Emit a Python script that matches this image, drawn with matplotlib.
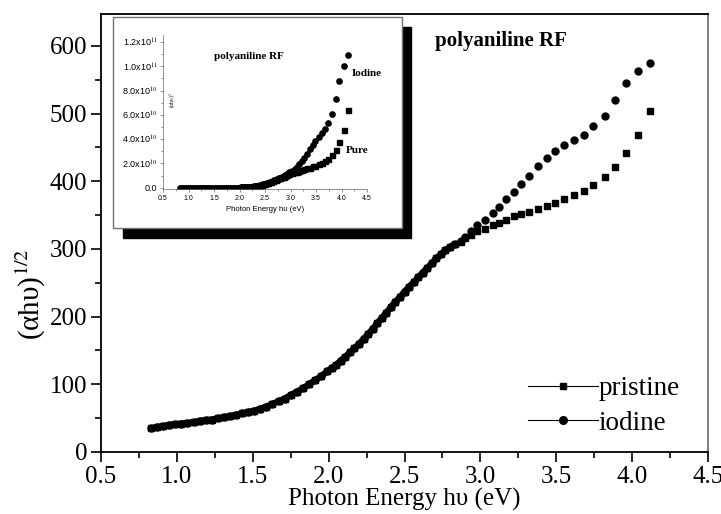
import numpy as np
import matplotlib
matplotlib.use('Agg')
import matplotlib.pyplot as plt
from matplotlib.patches import Rectangle
from matplotlib.lines import Line2D
from matplotlib.ticker import MultipleLocator, FormatStrFormatter

plt.rcParams['font.family'] = ['Liberation Serif', 'DejaVu Serif']
plt.rcParams['mathtext.fontset'] = 'stix'

# Shared low-energy part (both samples overlap below ~2.85 eV)
common_x = [0.83, 0.87, 0.91, 0.95, 0.99, 1.03, 1.07, 1.11, 1.15, 1.19, 1.23, 1.27,
            1.31, 1.35, 1.39, 1.43, 1.47, 1.51, 1.55, 1.59, 1.63, 1.67, 1.71, 1.75,
            1.79, 1.83, 1.87, 1.91, 1.95, 1.99, 2.02, 2.05, 2.08, 2.11, 2.14, 2.17,
            2.20, 2.23, 2.26, 2.29, 2.32, 2.35, 2.38, 2.41, 2.44, 2.47, 2.50, 2.53,
            2.56, 2.59, 2.62, 2.65, 2.68, 2.71, 2.74, 2.77, 2.80, 2.83]
common_y = [35, 37, 38, 40, 41, 42, 43, 44, 46, 47, 48, 50,
            51, 53, 55, 57, 59, 61, 64, 67, 71, 75, 79, 84,
            89, 94, 100, 106, 112, 119, 124, 129, 135, 141, 147, 153,
            160, 167, 174, 182, 190, 198, 206, 214, 222, 229, 237, 244,
            251, 258, 265, 272, 279, 286, 292, 298, 303, 307]

# High-energy tails
tail_x = [2.87, 2.90, 2.94, 2.98, 3.03, 3.08, 3.12, 3.17, 3.22, 3.27, 3.32, 3.38,
          3.44, 3.49, 3.55, 3.62, 3.68, 3.74, 3.82, 3.89, 3.96, 4.04, 4.12]
iodine_tail = [311, 318, 326, 335, 343, 353, 362, 373, 384, 396, 408, 422,
               434, 444, 453, 461, 469, 481, 497, 520, 545, 563, 575]
pristine_tail = [310, 316, 321, 326, 330, 335, 339, 343, 348, 351, 355, 359,
                 364, 368, 373, 379, 385, 394, 406, 421, 441, 468, 503]

energy = np.array(common_x + tail_x)
iodine = np.array(common_y + iodine_tail, dtype=float)
pristine = np.array(common_y + pristine_tail, dtype=float)

inset_yticks = [0, 2e10, 4e10, 6e10, 8e10, 1e11, 1.2e11]
inset_yticklabels = ['0.0', r'2.0x10$^{10}$', r'4.0x10$^{10}$', r'6.0x10$^{10}$',
                     r'8.0x10$^{10}$', r'1.0x10$^{11}$', r'1.2x10$^{11}$']

sans = ['Liberation Sans', 'DejaVu Sans']
W, H = 721, 514
fig = plt.figure(figsize=(W / 100, H / 100), dpi=100)

# main axes
ax = fig.add_axes([101 / W, (H - 452) / H, 607 / W, 438 / H])
# dense overlapping part reads as a solid band
ax.plot(common_x, common_y, '-', color='black', lw=4.5, solid_capstyle='round')
ax.plot(energy, pristine, 's', color='black', ms=4.6, ls='none')
ax.plot(energy, iodine, 'o', color='black', ms=5.0, ls='none')
ax.set_xlim(0.5, 4.5)
ax.set_ylim(0, 647)
ax.xaxis.set_major_locator(MultipleLocator(0.5))
ax.xaxis.set_minor_locator(MultipleLocator(0.25))
ax.yaxis.set_major_locator(MultipleLocator(100))
ax.yaxis.set_minor_locator(MultipleLocator(50))
ax.tick_params(which='both', direction='out', top=False, right=False, width=1.2,
               labelsize=18)
ax.tick_params(which='major', length=7, pad=3)
ax.tick_params(which='minor', length=4)
ax.xaxis.set_major_formatter(FormatStrFormatter('%.1f'))
for s in ['left', 'bottom', 'top']:
    ax.spines[s].set_linewidth(1.3)
ax.spines['right'].set_color('0.45')
ax.spines['right'].set_linewidth(1.3)
ax.set_xlabel('Photon Energy h\u03c5 (eV)', fontsize=18, labelpad=0)
ax.set_ylabel('(\u03b1h\u03c5)$^{1/2}$', fontsize=21)
ax.yaxis.set_label_coords(-0.087, 0.36)
ax.text(2.70, 600, 'polyaniline RF', fontsize=15, fontweight='bold')
handles = [Line2D([], [], color='black', lw=0.8, marker='s', ms=5),
           Line2D([], [], color='black', lw=0.8, marker='o', ms=5.5)]
ax.legend(handles, ['pristine', 'iodine'], loc='lower right',
          bbox_to_anchor=(0.98, 0.0), frameon=False, fontsize=19.5,
          handlelength=2.6, handletextpad=0.0, labelspacing=0.35,
          borderaxespad=0.2)

# inset box with shadow
fig.add_artist(Rectangle((123 / W, (H - 238) / H), 288 / W, 211 / H,
                         transform=fig.transFigure, facecolor='black',
                         edgecolor='black', zorder=2))
fig.add_artist(Rectangle((113 / W, (H - 228) / H), 289 / W, 211 / H,
                         transform=fig.transFigure, facecolor='white',
                         edgecolor='0.45', lw=1.0, zorder=2.5))

ax_in = fig.add_axes([163 / W, (H - 189) / H, 204 / W, 154 / H])
ax_in.set_zorder(3)
ax_in.patch.set_alpha(0)
ax_in.plot(energy, pristine ** 4, 's', color='black', ms=3.6, ls='none')
ax_in.plot(energy, iodine ** 4, 'o', color='black', ms=3.8, ls='none')
ax_in.set_xlim(0.5, 4.5)
ax_in.set_ylim(-1.0e9, 1.258e11)
ax_in.xaxis.set_major_locator(MultipleLocator(0.5))
ax_in.xaxis.set_minor_locator(MultipleLocator(0.25))
ax_in.set_yticks(inset_yticks)
ax_in.set_yticklabels(inset_yticklabels, family=sans)
ax_in.yaxis.set_minor_locator(MultipleLocator(1e10))
ax_in.xaxis.set_major_formatter(FormatStrFormatter('%.1f'))
for lab in ax_in.get_xticklabels():
    lab.set_family(sans)
ax_in.tick_params(which='both', direction='out', top=False, right=False,
                  width=0.5, color='0.4', labelsize=5, pad=1.5)
ax_in.tick_params(axis='y', labelsize=6.5)
ax_in.tick_params(which='major', length=2.5)
ax_in.tick_params(which='minor', length=1.5)
for s in ['top', 'right']:
    ax_in.spines[s].set_visible(False)
for s in ['left', 'bottom']:
    ax_in.spines[s].set_linewidth(0.5)
    ax_in.spines[s].set_color('0.4')
ax_in.set_xlabel('Photon Energy h\u03c5 (eV)', fontsize=5.5, labelpad=3,
                 family=sans)
ax_in.text(0.05, 0.58, '(\u03b1h\u03c5)$^{2}$', transform=ax_in.transAxes,
           rotation=90, fontsize=4, ha='center', va='center')
ax_in.text(2.19, 1.077e11, 'polyaniline RF', fontsize=8, fontweight='bold',
           ha='center', va='center')
ax_in.text(4.2, 0.945e11, 'Iodine', fontsize=8, fontweight='bold', va='center')
ax_in.text(4.08, 0.31e11, 'Pure', fontsize=8, fontweight='bold', va='center')

fig.savefig('out.png', dpi=100)
